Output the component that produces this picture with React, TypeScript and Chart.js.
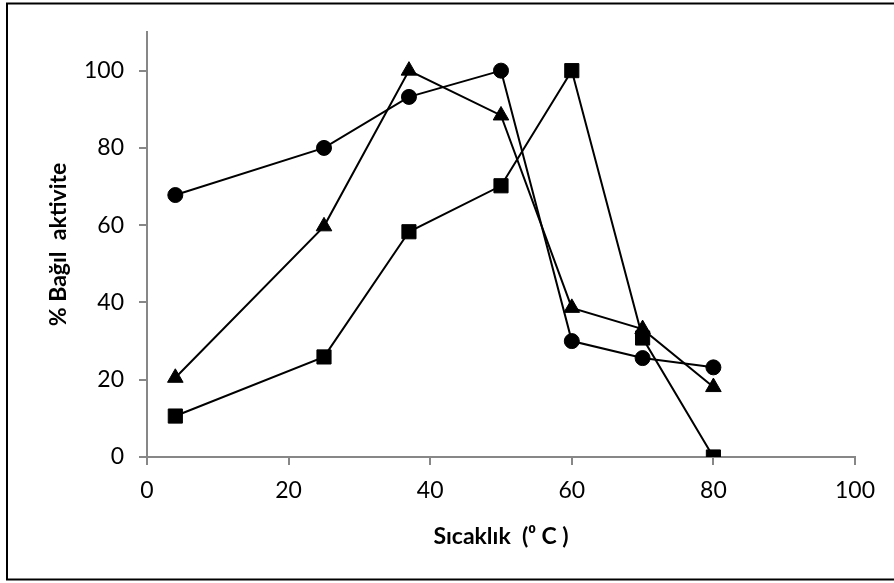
import React, { useEffect, useRef } from "react";
import { Chart, registerables } from "chart.js";

Chart.register(...registerables);

const temperatures = [4, 25, 37, 50, 60, 70, 80];
const seriesCircle = [67.8, 80, 93.2, 100, 30, 25.6, 23.2];
const seriesTriangle = [20.5, 59.7, 100, 88.4, 38.6, 33.1, 18.1];
const seriesSquare = [10.6, 25.9, 58.3, 70.2, 100, 30.8, 0];
const xTitle = "Sıcaklık  (⁰ C )";
const yTitle = "% Bağıl  aktivite";

const FONT = "Lato, 'Open Sans', sans-serif";
const AXIS = "#878787";

const frame = {
  id: "frame",
  afterDraw(chart: any) {
    const ctx = chart.ctx;
    ctx.save();
    ctx.strokeStyle = "#000";
    ctx.lineWidth = 2;
    ctx.strokeRect(7, 3.5, 900, 576);
    ctx.restore();
  },
};

export default function App() {
  const ref = useRef<HTMLCanvasElement>(null);
  useEffect(() => {
    document.body.style.margin = "0";
    const toPts = (ys: number[]) => temperatures.map((x, i) => ({ x, y: ys[i] }));
    const common = {
      showLine: true,
      borderColor: "#000",
      borderWidth: 2,
      pointBackgroundColor: "#000",
      pointBorderColor: "#000",
      pointBorderWidth: 1,
      tension: 0,
    };
    const chart = new Chart(ref.current!, {
      type: "scatter",
      data: {
        datasets: [
          { ...common, data: toPts(seriesCircle), pointStyle: "circle", pointRadius: 7.5 },
          { ...common, data: toPts(seriesTriangle), pointStyle: "triangle", pointRadius: 9 },
          { ...common, data: toPts(seriesSquare), pointStyle: "rect", pointRadius: 10 },
        ],
      },
      options: {
        responsive: false,
        animation: false,
        layout: { padding: { left: 0, right: 39, top: 32, bottom: 0 } },
        plugins: { legend: { display: false }, tooltip: { enabled: false } },
        scales: {
          x: {
            type: "linear",
            min: 0,
            max: 100,
            afterFit: (s: any) => { s.height = 126; },
            ticks: { stepSize: 20, color: "#000", font: { family: FONT, size: 23 }, padding: 12, maxRotation: 0 },
            grid: { drawOnChartArea: false, drawTicks: true, tickLength: 8, color: AXIS, lineWidth: 2 },
            border: { color: AXIS, width: 2 },
            title: { display: true, text: xTitle, color: "#000", font: { family: FONT, size: 23, weight: "bold" }, padding: { top: 0, bottom: 33 } },
          },
          y: {
            type: "linear",
            min: 0,
            max: 110,
            afterFit: (s: any) => { s.width = 147; },
            ticks: { stepSize: 20, includeBounds: false, color: "#000", font: { family: FONT, size: 23 }, padding: 15 },
            grid: { drawOnChartArea: false, drawTicks: true, tickLength: 8, color: AXIS, lineWidth: 2 },
            border: { color: AXIS, width: 2 },
            title: { display: true, text: yTitle, color: "#000", font: { family: FONT, size: 23, weight: "bold" }, padding: { top: 45, bottom: 0 } },
          },
        },
      },
      plugins: [frame],
    });
    return () => chart.destroy();
  }, []);
  return (
    <div style={{ width: 894, height: 583, background: "#fff" }}>
      <canvas ref={ref} width={894} height={583} style={{ display: "block" }} />
    </div>
  );
}
